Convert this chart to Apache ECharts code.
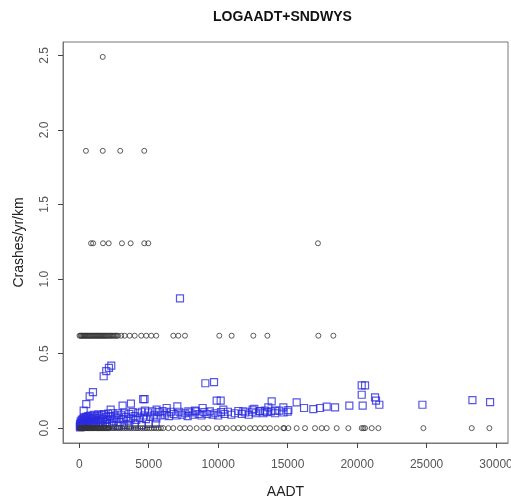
<!DOCTYPE html>
<html>
<head>
<meta charset="utf-8">
<script src="https://cdn.jsdelivr.net/npm/echarts@6/dist/echarts.min.js"></script>
<style>
html, body { margin: 0; padding: 0; background: #fff; }
#main { width: 511px; height: 502px; }
</style>
</head>
<body>
<div id="main"></div>
<script>
// observed crash rate levels (crashes/yr/km) and the AADT of sites at each level
const rateLevels = [0, 0.62, 1.24, 1.86, 2.49]
const obsAtZero = [
  30, 80, 120, 170, 220, 260, 310, 360, 400, 450, 500, 560, 610, 660, 720, 780, 830, 890, 950, 1010,
  1070, 1130, 1190, 1250, 1320, 1390, 1450, 1520, 1590, 1660, 1730, 1800, 1880, 1950, 2030, 2110, 2190,
  2350, 2500, 2650, 2820, 2960, 3100, 3280, 3420, 3600, 3750, 3920, 4080, 4230, 4400, 4560, 4720,
  4880, 5050, 5200, 5380, 5550, 5700, 5880,
  6050, 6410, 6770, 7250, 7610, 7970, 8450, 8930, 9290, 9890, 10250, 10610, 11090, 11450, 11810,
  12290, 12650, 13010, 13370, 13730, 14210, 14690, 14750, 15050, 15650, 16250, 16970, 17450, 17810,
  18530, 19370, 20330, 20450, 20570, 21050, 21530, 24770, 28250, 29520
]
const obsAt062 = [
  20, 90, 150, 210, 280, 340, 410, 470, 540, 600, 670, 740, 800, 870, 940, 1010, 1080, 1150, 1220,
  1290, 1360, 1430, 1500, 1570, 1640, 1710, 1780, 1850, 1920, 2000, 2080, 2160, 2240, 2330, 2420,
  2510, 2600, 2700, 2790,
  3020, 3270, 3630, 3990, 4460, 4820, 5180, 5540,
  6770, 7130, 7610, 10080, 10970, 12530, 13540, 17210, 18290
]
const obsAt124 = [850, 1000, 1710, 2120, 3070, 3700, 4680, 4970, 17180]
const obsAt186 = [480, 1690, 2950, 4680]
const obsAt249 = [1690]

// predicted crash rate [AADT, crashes/yr/km]
const predDense = [
  [40, 0.012], [60, 0.03], [70, 0.005], [80, 0.02], [110, 0.045], [130, 0.008], [150, 0.035], [180, 0.055],
  [200, 0.015], [230, 0.04], [250, 0.01], [260, 0.062], [290, 0.025], [320, 0.05], [350, 0.07], [380, 0.018],
  [420, 0.058], [450, 0.035], [480, 0.075], [500, 0.008], [520, 0.045], [560, 0.065], [600, 0.02], [640, 0.08],
  [680, 0.05], [720, 0.03], [760, 0.07], [800, 0.085], [800, 0.012], [850, 0.04], [900, 0.06], [950, 0.078],
  [1000, 0.025], [1050, 0.09], [1100, 0.05], [1100, 0.015], [1150, 0.068], [1200, 0.035], [1260, 0.082],
  [1320, 0.055], [1380, 0.092], [1400, 0.01], [1440, 0.03], [1500, 0.07], [1570, 0.045], [1640, 0.088],
  [1700, 0.06], [1700, 0.018], [1780, 0.095], [1850, 0.04], [1920, 0.075], [2000, 0.055], [2000, 0.012],
  [2080, 0.098], [2160, 0.03], [2240, 0.08], [2320, 0.062], [2400, 0.1], [2400, 0.02], [2500, 0.045],
  [2600, 0.085], [2700, 0.07], [2800, 0.1], [2800, 0.015], [2900, 0.04], [3000, 0.09], [3120, 0.06],
  [3200, 0.022], [3240, 0.105], [3360, 0.075], [3480, 0.05], [3600, 0.095], [3600, 0.018], [3720, 0.065],
  [3850, 0.108], [3980, 0.08], [4000, 0.025], [4100, 0.055], [4230, 0.1], [4360, 0.07], [4500, 0.11],
  [4500, 0.02], [4650, 0.085], [4800, 0.06], [4950, 0.105], [5000, 0.028], [5100, 0.078], [5250, 0.112],
  [5400, 0.09], [5500, 0.03], [5550, 0.065], [5700, 0.108], [5850, 0.085], [6000, 0.115]
]
const predBand = [
  [6150, 0.09], [6300, 0.105], [6450, 0.08], [6600, 0.11], [6800, 0.095], [7000, 0.085], [7200, 0.11],
  [7400, 0.09], [7600, 0.1], [7800, 0.08], [8000, 0.105], [8200, 0.09], [8400, 0.112], [8600, 0.095],
  [8800, 0.085], [9000, 0.108], [9200, 0.095], [9400, 0.112], [9600, 0.09], [9800, 0.1], [10000, 0.085],
  [10200, 0.108], [10450, 0.095], [10700, 0.11], [10950, 0.09], [11200, 0.1], [11450, 0.115], [11700, 0.095],
  [11950, 0.105], [12200, 0.09], [12450, 0.11], [12700, 0.1], [13000, 0.115], [13250, 0.1], [13500, 0.108],
  [13800, 0.112], [14100, 0.1], [14400, 0.118], [14700, 0.105], [15000, 0.11]
]
const predHigh = [
  [317, 0.117], [504, 0.161], [749, 0.213], [986, 0.242], [1757, 0.348], [1944, 0.382], [2138, 0.404],
  [2304, 0.42], [2260, 0.124], [3120, 0.151], [3720, 0.164], [4600, 0.195], [4700, 0.195], [4730, 0.117],
  [5570, 0.124], [6290, 0.135], [7060, 0.146], [7250, 0.87], [7850, 0.112], [8330, 0.117], [8880, 0.135],
  [9075, 0.301], [9700, 0.309], [9890, 0.184], [10180, 0.184], [10370, 0.124], [11810, 0.112],
  [12480, 0.124], [12600, 0.13], [13010, 0.112], [13370, 0.117], [13610, 0.139], [13850, 0.18],
  [14090, 0.117], [14690, 0.139], [15050, 0.121], [15650, 0.173], [16180, 0.135], [16850, 0.128],
  [17330, 0.135], [17810, 0.144], [18410, 0.139], [19440, 0.151], [20400, 0.151], [20330, 0.224],
  [20330, 0.287], [20570, 0.287], [21290, 0.206], [21360, 0.184], [21600, 0.157], [24700, 0.157],
  [28300, 0.188], [29570, 0.175]
]
const xTicks = [0, 5000, 10000, 15000, 20000, 25000, 30000]
const yTicks = [0, 0.5, 1, 1.5, 2, 2.5]

const observed = []
;[obsAtZero, obsAt062, obsAt124, obsAt186, obsAt249].forEach((list, i) => {
  list.forEach(x => observed.push([x, rateLevels[i]]))
})
const predicted = predDense.concat(predBand, predHigh)

const font = 'Liberation Sans, Arial, sans-serif'
var myChart = echarts.init(document.getElementById('main'))
var option = {
  animation: false,
  title: {
    text: 'LOGAADT+SNDWYS',
    left: 213,
    top: 10,
    padding: 0,
    textStyle: { fontFamily: font, fontSize: 14, fontWeight: 'bold', color: '#111' }
  },
  grid: {
    left: 63, right: 3, top: 42, bottom: 59,
    show: true,
    borderColor: '#777',
    borderWidth: 1,
    containLabel: false,
    outerBoundsMode: 'none'
  },
  xAxis: {
    type: 'value',
    min: -1170,
    max: 30860,
    name: 'AADT',
    nameLocation: 'middle',
    nameGap: 42,
    nameTextStyle: { fontFamily: font, fontSize: 14, color: '#222' },
    axisLine: { show: true, onZero: false, lineStyle: { color: '#777', width: 1 } },
    splitLine: { show: false },
    axisTick: { show: true, customValues: xTicks, length: 5, lineStyle: { color: '#444', width: 1 } },
    axisLabel: {
      customValues: xTicks,
      margin: 16,
      fontFamily: font, fontSize: 12, color: '#555',
      formatter: v => String(v)
    }
  },
  yAxis: {
    type: 'value',
    min: -0.0996,
    max: 2.59,
    name: 'Crashes/yr/km',
    nameLocation: 'middle',
    nameGap: 37,
    nameRotate: 90,
    nameTextStyle: { fontFamily: font, fontSize: 14, color: '#222' },
    axisLine: { show: true, onZero: false, lineStyle: { color: '#777', width: 1 } },
    splitLine: { show: false },
    axisTick: { show: true, customValues: yTicks, length: 5, lineStyle: { color: '#444', width: 1 } },
    axisLabel: {
      customValues: yTicks,
      rotate: 90,
      margin: 12,
      fontFamily: font, fontSize: 12, color: '#555',
      formatter: v => v.toFixed(1)
    }
  },
  series: [
    {
      name: 'predicted',
      type: 'scatter',
      data: predicted,
      symbol: 'rect',
      symbolSize: 7,
      itemStyle: { color: 'rgba(0,0,0,0)', borderColor: '#2a2ae0', borderWidth: 1.2 }
    },
    {
      name: 'observed',
      type: 'scatter',
      data: observed,
      symbol: 'circle',
      symbolSize: 5,
      itemStyle: { color: 'rgba(0,0,0,0)', borderColor: '#333', borderWidth: 1 }
    }
  ]
}
myChart.setOption(option)
</script>
</body>
</html>
